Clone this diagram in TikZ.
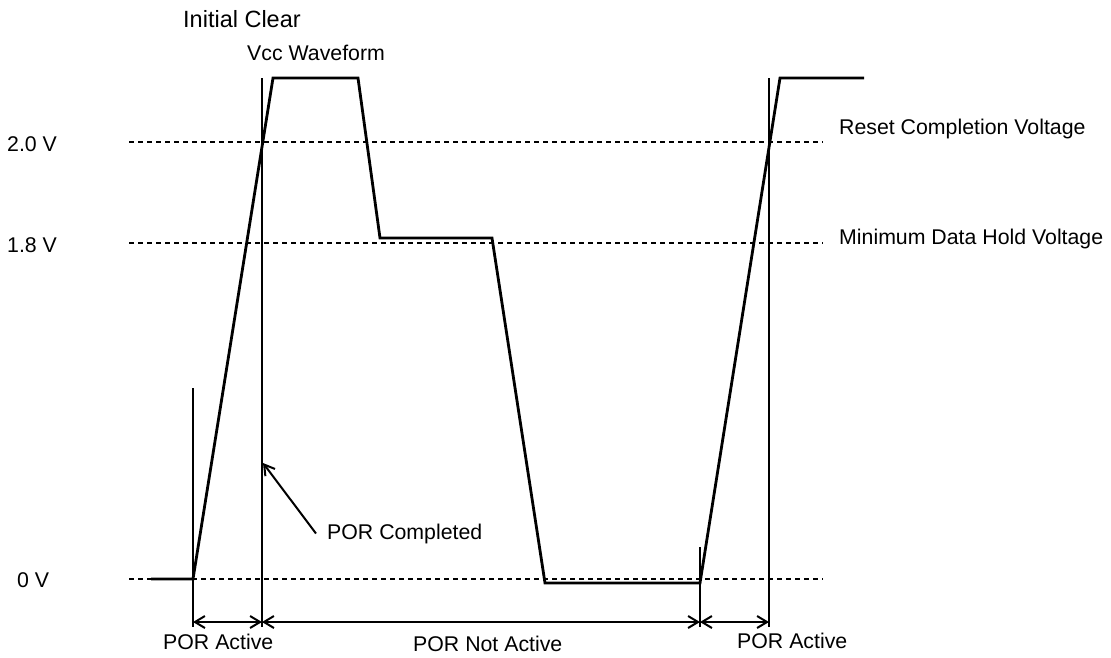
\documentclass[tikz,border=0pt]{standalone}
\usepackage{fontspec}
\setmainfont{Liberation Sans}
\usetikzlibrary{arrows.meta}

\begin{document}
\begin{tikzpicture}[x=1pt, y=-1pt,
    wave/.style={line width=2.8pt, line join=miter},
    guide/.style={line width=1.2pt},
    level/.style={line width=1.1pt, dash pattern=on 5pt off 4pt},
    barb/.tip={Straight Barb[length=10pt, width=12pt, line width=2pt]},
    span/.style={line width=2pt, barb-barb},
    lbl/.style={anchor=base west, inner sep=0pt, font=\fontsize{21.3}{25}\selectfont}]
    \useasboundingbox (0,0) rectangle (1111,657);
    % voltage levels
    \node[lbl] (v20) at (7,151) {2.0 V};
    \node[lbl] (v18) at (7,252) {1.8 V};
    \node[lbl] (v00) at (17,587) {0 V};
    \draw[level] (129,142) -- (823,142);
    \draw[level] (129,243) -- (823,243);
    \draw[level] (129,579) -- (823,579);
    \node[lbl] (reset) at (839,134) {Reset Completion Voltage};
    \node[lbl] (hold) at (839,244) {Minimum Data Hold Voltage};
    % titles
    \node[lbl, font=\fontsize{23.5}{28}\selectfont] (init) at (183,27) {Initial Clear};
    \node[lbl] (vcc) at (247,60) {Vcc Waveform};
    % vcc waveform
    \draw[wave] (151,579) -- (193,579) -- (273,78) -- (358,78) -- (380,238)
      -- (492,238) -- (545,583) -- (700,583) -- (780,78) -- (864,78);
    % markers
    \coordinate (m1) at (193,622);
    \coordinate (m2) at (262,622);
    \coordinate (m3) at (700,622);
    \coordinate (m4) at (769,622);
    \draw[guide] (193,388) -- (193,627);
    \draw[guide] (262,78) -- (262,627);
    \draw[guide] (700,547) -- (700,627);
    \draw[guide] (769,78) -- (769,627);
    \draw[span] (m1) -- (m2);
    \draw[span] (m2) -- (m3);
    \draw[span] (m3) -- (m4);
    \node[lbl] (act1) at (163,649) {POR Active};
    \node[lbl] (inact) at (413,651) {POR Not Active};
    \node[lbl] (act2) at (737,648) {POR Active};
    % por completed
    \node[lbl] (porc) at (327,539) {POR Completed};
    \coordinate (porctip) at (263,463);
    \draw[line width=2pt, -barb] ([xshift=-11pt]porc.west) -- (porctip);
\end{tikzpicture}
\end{document}
